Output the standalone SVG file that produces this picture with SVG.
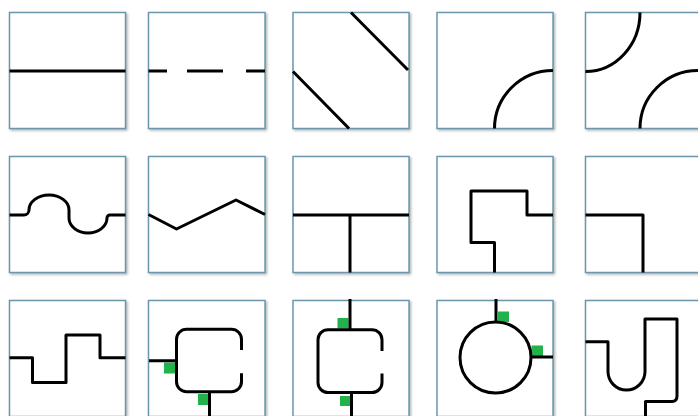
<svg xmlns="http://www.w3.org/2000/svg" width="698" height="416" viewBox="0 0 698 416">
<style>
.tile{fill:#ffffff;stroke:#6a97ad;stroke-width:1.5;filter:url(#sh)}
.ln{fill:none;stroke:#000000;stroke-width:3;stroke-linejoin:round}
.gr{fill:#21b24b}
</style>
<defs>
<filter id="sh" x="-10%" y="-10%" width="120%" height="120%">
<feDropShadow dx="1.5" dy="1.5" stdDeviation="1" flood-color="#7a7a7a" flood-opacity="0.55"/>
</filter>
</defs>
<rect width="698" height="416" fill="#ffffff"/>
<g id="tile-r1c1"><rect class="tile" x="9.5" y="12.5" width="116" height="116"/><path class="ln" d="M9.5,71 H125.5"/></g>
<g id="tile-r1c2"><rect class="tile" x="148.5" y="12.5" width="116.5" height="116"/><path class="ln" d="M148.5,71 H167 M187,71 H223 M246,71 H265"/></g>
<g id="tile-r1c3"><rect class="tile" x="293" y="12.5" width="116" height="116"/><path class="ln" d="M293,71.5 L349,128.5 M351,12.5 L408,70"/></g>
<g id="tile-r1c4"><rect class="tile" x="437" y="12.5" width="116" height="116"/><path class="ln" d="M494.5,128.5 A58.5,58 0 0 1 553,70.5"/></g>
<g id="tile-r1c5"><rect class="tile" x="585.5" y="12.5" width="116" height="116"/><path class="ln" d="M640,12.5 A54.5,59 0 0 1 585.5,71.5 M640,128.5 A58,58 0 0 1 698,70.5 L702,70.5"/></g>
<g id="tile-r2c1"><rect class="tile" x="9.5" y="156.5" width="116" height="116"/><path class="ln" d="M9.5,215 H24 A5,5 0 0 0 29,210 A20,15 0 0 1 69,210 V218 A19,15 0 0 0 107,218 A3,3 0 0 1 110,215 H125.5"/></g>
<g id="tile-r2c2"><rect class="tile" x="148.5" y="156.5" width="116.5" height="116"/><path class="ln" d="M148.5,214.5 L176.5,229 L236,200 L265,214.5"/></g>
<g id="tile-r2c3"><rect class="tile" x="293" y="156.5" width="116" height="116"/><path class="ln" d="M293,215 H409 M350,215 V272.5"/></g>
<g id="tile-r2c4"><rect class="tile" x="437" y="156.5" width="116" height="116"/><path class="ln" d="M553,215 H527 V191 H471 V242.5 H494.5 V272.5"/></g>
<g id="tile-r2c5"><rect class="tile" x="585.5" y="156.5" width="116" height="116"/><path class="ln" d="M585.5,215 H643 V272.5"/></g>
<g id="tile-r3c1"><rect class="tile" x="9.5" y="300.5" width="116" height="116"/><path class="ln" d="M9.5,357.7 H32.5 V382.5 H66 V335 H100 V357.7 H125.5"/></g>
<g id="tile-r3c2"><rect class="tile" x="148.5" y="300.5" width="116.5" height="116"/>
<rect class="gr" x="164" y="362.5" width="11" height="11"/><rect class="gr" x="198" y="394" width="10.5" height="11"/>
<path class="ln" d="M241.5,350 V339.3 A10,10 0 0 0 231.5,329.3 H186.5 A10,10 0 0 0 176.5,339.3 V381.7 A10,10 0 0 0 186.5,391.7 H231.5 A10,10 0 0 0 241.5,381.7 V373.3 M149,360.7 H176.5 M209.5,391.7 V416"/></g>
<g id="tile-r3c3"><rect class="tile" x="293" y="300.5" width="116" height="116"/>
<rect class="gr" x="337.5" y="318" width="11" height="10.5"/><rect class="gr" x="340" y="396" width="10" height="10"/>
<path class="ln" d="M382,351 V339.7 A10,10 0 0 0 372,329.7 H328 A10,10 0 0 0 318,339.7 V382.5 A10,10 0 0 0 328,392.5 H372 A10,10 0 0 0 382,382.5 V373.5 M350,299 V329.7 M351.5,392.5 V416"/></g>
<g id="tile-r3c4"><rect class="tile" x="437" y="300.5" width="116" height="116"/>
<rect class="gr" x="498" y="311.5" width="11" height="10.5"/><rect class="gr" x="531.5" y="345.5" width="11.5" height="10.5"/>
<circle class="ln" cx="495.5" cy="357.5" r="35.5"/><path class="ln" d="M496,299 V322 M531,357 H553"/></g>
<g id="tile-r3c5"><rect class="tile" x="585.5" y="300.5" width="116" height="116"/><path class="ln" d="M585.5,341.7 H608 V371.5 A18.5,18.5 0 0 0 645,371.5 V319 H677 V396 Q677,401.5 672,401.5 H645.5 V416.5"/></g>
</svg>
